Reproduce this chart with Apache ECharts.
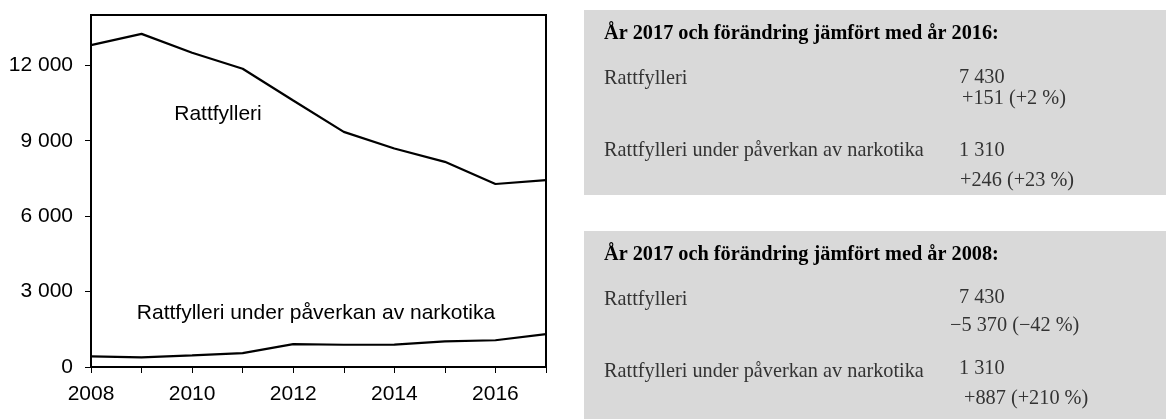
<!DOCTYPE html>
<html><head><meta charset="utf-8">
<script src="https://cdn.jsdelivr.net/npm/echarts@6/dist/echarts.min.js"></script>
<style>html,body{margin:0;padding:0;background:#fff}#c{width:1166px;height:419px}</style>
</head><body><div id="c"></div>
<script>
const years = [2008, 2009, 2010, 2011, 2012, 2013, 2014, 2015, 2016, 2017];
const rattfylleri = [12800, 13250, 12500, 11860, 10600, 9350, 8690, 8160, 7279, 7430];
const narkotika = [423, 381, 460, 555, 912, 885, 890, 1016, 1064, 1310];
const yTicks = [0, 3000, 6000, 9000, 12000];
const seriesNames = ['Rattfylleri', 'Rattfylleri under påverkan av narkotika'];
const box1Title = 'År 2017 och förändring jämfört med år 2016:';
const box2Title = 'År 2017 och förändring jämfört med år 2008:';
const box1Values = ['7 430', '+151 (+2 %)', '1 310', '+246 (+23 %)'];
const box2Values = ['7 430', '\u22125 370 (\u221242 %)', '1 310', '+887 (+210 %)'];

const fmt = v => String(v).replace(/\B(?=(\d{3})+(?!\d))/g, ' ');
const sans = 'Liberation Sans';
const serif = 'Liberation Serif';
const SF = 20.3;

function panel(top, title, dy) {
  const c = [];
  c.push({type:'rect', shape:{x:584, y:top, width:582, height:dy}, style:{fill:'#d9d9d9'}, silent:true});
  c.push({type:'text', x:604, y:top+24, style:{text:title, font:'bold ' + SF + 'px ' + serif, fill:'#000', textVerticalAlign:'middle'}});
  c.push({type:'text', x:604, y:top+69, style:{text:seriesNames[0], font:SF + 'px ' + serif, fill:'#333', textVerticalAlign:'middle'}});
  c.push({type:'text', x:604, y:top+141, style:{text:seriesNames[1], font:SF + 'px ' + serif, fill:'#333', textVerticalAlign:'middle'}});
  return c;
}

const chart = echarts.init(document.getElementById('c'), null, {renderer:'canvas'});
const graphics = [];
graphics.push(...panel(10, box1Title, 185));
graphics.push(...panel(231, box2Title, 188));
const valStyle = (t) => ({text:t, font:SF + 'px ' + serif, fill:'#333', textVerticalAlign:'middle'});
graphics.push({type:'text', x:959, y:78, style:valStyle(box1Values[0])});
graphics.push({type:'text', x:962, y:99, style:valStyle(box1Values[1])});
graphics.push({type:'text', x:959, y:151, style:valStyle(box1Values[2])});
graphics.push({type:'text', x:960, y:181, style:valStyle(box1Values[3])});
graphics.push({type:'text', x:959, y:298, style:valStyle(box2Values[0])});
graphics.push({type:'text', x:950, y:326, style:valStyle(box2Values[1])});
graphics.push({type:'text', x:959, y:369, style:valStyle(box2Values[2])});
graphics.push({type:'text', x:964, y:399, style:valStyle(box2Values[3])});
graphics.push({type:'text', x:218, y:114, style:{text:seriesNames[0], font:'21px ' + sans, fill:'#000', textAlign:'center', textVerticalAlign:'middle'}});
graphics.push({type:'text', x:316, y:313, style:{text:seriesNames[1], font:'21px ' + sans, fill:'#000', textAlign:'center', textVerticalAlign:'middle'}});

chart.setOption({
  animation: false,
  backgroundColor: '#fff',
  grid: {left: 91, right: 620, top: 15, bottom: 52, show: true, borderColor: '#000', borderWidth: 2, backgroundColor: 'transparent'},
  xAxis: {
    type: 'value', min: 2008, max: 2017, interval: 1,
    axisLine: {show: true, lineStyle: {color: '#000', width: 2}},
    axisTick: {show: true, length: 6, lineStyle: {color: '#000', width: 1}},
    axisLabel: {formatter: v => (v % 2 === 0 ? String(v) : ''), fontSize: 21, fontFamily: sans, color: '#000', margin: 17},
    splitLine: {show: false}
  },
  yAxis: {
    type: 'value', min: 0, max: 14000,
    axisLine: {show: true, lineStyle: {color: '#000', width: 2}},
    axisTick: {show: true, length: 6, lineStyle: {color: '#000', width: 1}, customValues: yTicks},
    axisLabel: {formatter: v => fmt(v), fontSize: 21, fontFamily: sans, color: '#000', margin: 18, customValues: yTicks},
    splitLine: {show: false}
  },
  series: [
    {type: 'line', name: seriesNames[0], data: years.map((y, i) => [y, rattfylleri[i]]), symbol: 'none', lineStyle: {color: '#000', width: 2.2}, silent: true},
    {type: 'line', name: seriesNames[1], data: years.map((y, i) => [y, narkotika[i]]), symbol: 'none', lineStyle: {color: '#000', width: 2.2}, silent: true}
  ],
  graphic: graphics
});
</script>
</body></html>
